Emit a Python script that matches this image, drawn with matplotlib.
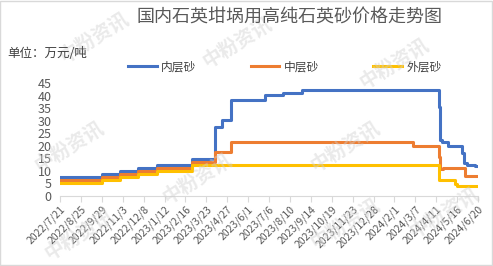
import matplotlib
matplotlib.use("Agg")
import matplotlib.pyplot as plt
from matplotlib.patches import Rectangle
import pandas as pd

plt.rcParams['font.family'] = ['Noto Sans CJK SC', 'DejaVu Sans']

title = "国内石英坩埚用高纯石英砂价格走势图"
unit = "单位：万元/吨"
end_date = "2024-06-20"

# 内层砂
inner_dates = ["2022-07-21", "2022-09-29", "2022-10-29", "2022-11-29", "2022-12-30",
               "2023-02-27", "2023-04-07", "2023-04-18", "2023-05-03", "2023-06-29",
               "2023-07-30", "2023-08-30", "2024-04-15", "2024-04-17", "2024-04-20",
               "2024-05-01", "2024-05-25", "2024-05-28", "2024-06-01", "2024-06-15"]
inner_vals = [7.5, 8.8, 9.9, 11.0, 12.2,
              14.5, 27.5, 30.3, 38.4, 40.3,
              41.2, 42.2, 35.3, 22.3, 21.6,
              20.0, 17.0, 13.0, 12.3, 11.8]

# 中层砂
middle_dates = ["2022-07-21", "2022-09-29", "2022-10-29", "2022-11-29", "2022-12-30",
                "2023-02-27", "2023-04-07", "2023-05-03", "2024-03-03", "2024-04-16",
                "2024-04-18", "2024-04-22", "2024-05-29"]
middle_vals = [6.3, 7.6, 8.7, 9.8, 11.0,
               13.3, 17.4, 21.4, 19.9, 15.5,
               10.5, 11.2, 7.8]

# 外层砂
outer_dates = ["2022-07-21", "2022-09-29", "2022-10-29", "2022-11-29", "2022-12-30",
               "2023-02-27", "2024-04-16", "2024-05-13", "2024-05-16"]
outer_vals = [5.2, 6.4, 7.5, 8.6, 9.8,
              12.2, 6.2, 4.5, 4.0]

series = [("内层砂", inner_dates, inner_vals, "#4472C4"),
          ("中层砂", middle_dates, middle_vals, "#ED7D31"),
          ("外层砂", outer_dates, outer_vals, "#FFC000")]

fig = plt.figure(figsize=(4.93, 2.66), dpi=100)
ax = fig.add_axes([0.1217, 0.265, 0.8479, 0.422])

for name, d, v, c in series:
    x = pd.to_datetime(d + [end_date])
    y = v + [v[-1]]
    ax.plot(x, y, drawstyle="steps-post", color=c, lw=2.2, label=name)

start = pd.Timestamp("2022-07-21")
ticks = pd.date_range(start, pd.Timestamp(end_date), freq="35D")
ax.set_xlim(start, pd.Timestamp(end_date))
ax.set_xticks(ticks)
ax.set_xticklabels([f"{t.year}/{t.month}/{t.day}" for t in ticks],
                   rotation=45, ha="right", rotation_mode="anchor",
                   fontsize=7.5, color="#595959")
ax.set_ylim(0, 45)
ax.set_yticks(range(0, 46, 5))
ax.tick_params(axis="y", length=0, labelsize=9, labelcolor="#595959", pad=6)
ax.tick_params(axis="x", length=4, color="#D9D9D9", pad=2)
for s in ["top", "right", "left"]:
    ax.spines[s].set_visible(False)
ax.spines["bottom"].set_color("#D9D9D9")

fig.text(0.588, 0.935, title, ha="center", va="center", fontsize=13, color="#595959")
fig.text(0.014, 0.80, unit, ha="left", va="center", fontsize=9, color="#404040")

ax.legend(loc="center", bbox_to_anchor=(0.578, 0.748), bbox_transform=fig.transFigure,
          ncol=3, frameon=False, fontsize=8.5, handlelength=2.4, columnspacing=4.6,
          handletextpad=0.4, labelcolor="#404040")

# watermarks
for (wx, wy) in [(0.19, 0.86), (0.48, 0.84), (0.80, 0.76), (0.14, 0.45),
                 (0.40, 0.33), (0.70, 0.45), (0.70, 0.16), (0.90, 0.20), (0.16, 0.12)]:
    fig.text(wx, wy, "中粉资讯", fontsize=14, fontweight="bold", color="#D0D0D0",
             alpha=0.45, rotation=32, ha="center", va="center", zorder=0)

fig.patches.append(Rectangle((0.001, 0.002), 0.997, 0.995, transform=fig.transFigure,
                             fill=False, edgecolor="#D9D9D9", lw=1))

fig.savefig("out.png", dpi=100)
